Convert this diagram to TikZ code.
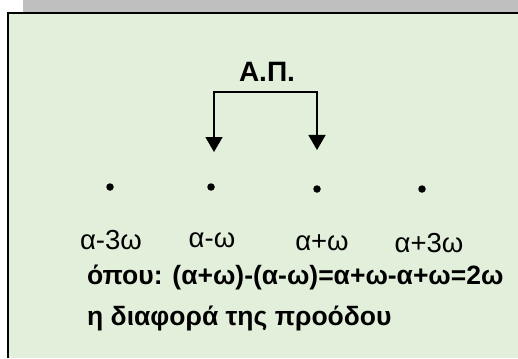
\documentclass[tikz,border=0pt]{standalone}
\usepackage{fontspec}
\setmainfont{Liberation Sans}
\usepackage{xcolor}
\usepackage{tikz}
\usetikzlibrary{positioning,arrows.meta}

\definecolor{bandgray}{HTML}{BFBFBF}
\definecolor{boxgreen}{HTML}{E2EFDA}

\begin{document}
\begin{tikzpicture}[x=1pt, y=-1pt,
    every node/.style={font=\fontsize{27.5}{32}\selectfont, inner sep=0pt},
    dot/.style={circle, fill=black, minimum size=7.5pt},
    term/.style={anchor=center},
    note/.style={anchor=west, font=\fontsize{26.5}{31}\selectfont\bfseries},
    arrow/.style={{Triangle[length=15pt,width=17pt]}-{Triangle[length=15pt,width=17pt]}, line width=1.5pt},
]
\useasboundingbox (0,0) rectangle (518,358);

% Frame
\fill[bandgray] (23,0) rectangle (518,13);
\fill[boxgreen] (8,13) rectangle (518,358);
\draw[line width=2pt] (8,358) -- (8,13) -- (518,13);

% Terms of the progression
\node[dot] (dm3) at (110,187) {};
\node[dot] (dm1) at (211,187) {};
\node[dot] (dp1) at (317,189) {};
\node[dot] (dp3) at (422,189) {};

\node[term] (lm3) at (111,240) {α-3ω};
\node[term] (lm1) at (212,240) {α-ω};
\node[term] (lp1) at (322,243) {α+ω};
\node[term] (lp3) at (429,243) {α+3ω};

% Bracket
\node[font=\fontsize{28}{33}\selectfont\bfseries] (ap) at (267,72) {Α.Π.};
\coordinate (ltop) at (214,92);
\coordinate (rtop) at (317,92);
\coordinate (lend) at (214,152);
\coordinate (rend) at (317,150);
\draw[arrow] (lend) -- (ltop) -- (rtop) -- (rend);

% Difference
\node[note] (diff) at (87,277) {όπου: (α+ω)-(α-ω)=α+ω-α+ω=2ω};
\node[note] (name) at (87,318) {η διαφορά της προόδου};

\end{tikzpicture}
\end{document}
